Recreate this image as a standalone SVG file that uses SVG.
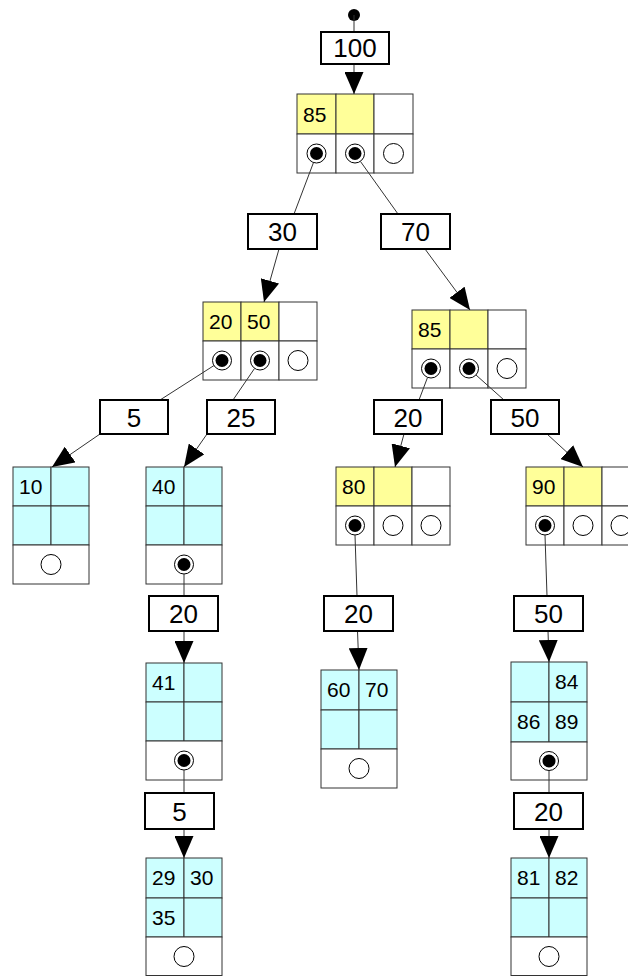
<svg xmlns="http://www.w3.org/2000/svg" width="628" height="976" viewBox="0 0 628 976">
<style>
.y{fill:#ffff99;stroke:#333333;stroke-width:1}
.c{fill:#ccffff;stroke:#333333;stroke-width:1}
.w{fill:#ffffff;stroke:#333333;stroke-width:1}
.lb{fill:#ffffff;stroke:#000000;stroke-width:2}
.lt{font-family:"Liberation Sans",Arial,sans-serif;font-size:26px;fill:#000;text-anchor:middle}
.ct{font-family:"Liberation Sans",Arial,sans-serif;font-size:21px;fill:#000}
.ring{fill:#ffffff;stroke:#000;stroke-width:1}
.dot{fill:#000}
.e{fill:none;stroke:#333333;stroke-width:1}
</style>
<defs>
<marker id="ah" viewBox="0 0 22 19" refX="22" refY="9.5" markerWidth="22" markerHeight="19" markerUnits="userSpaceOnUse" orient="auto">
<path d="M0,0 L22,9.5 L0,19 z" fill="#000"/>
</marker>
<g id="full"><circle class="ring" r="9.5"/><circle class="dot" r="6.5"/></g>
<g id="empty"><circle class="ring" r="10"/></g>
</defs>

<g id="n_root">
<rect class="y" x="297" y="94" width="39" height="40"/>
<rect class="y" x="336" y="94" width="38" height="40"/>
<rect class="w" x="374" y="94" width="39" height="40"/>
<rect class="w" x="297" y="134" width="39" height="39"/>
<rect class="w" x="336" y="134" width="38" height="39"/>
<rect class="w" x="374" y="134" width="39" height="39"/>
<text class="ct" x="303" y="121.5">85</text>
<use href="#full" x="316.5" y="153.5"/>
<use href="#full" x="355" y="153.5"/>
<use href="#empty" x="393.5" y="153.5"/>
</g>

<g id="n_2050">
<rect class="y" x="203" y="302" width="38" height="39"/>
<rect class="y" x="241" y="302" width="38" height="39"/>
<rect class="w" x="279" y="302" width="38" height="39"/>
<rect class="w" x="203" y="341" width="38" height="39"/>
<rect class="w" x="241" y="341" width="38" height="39"/>
<rect class="w" x="279" y="341" width="38" height="39"/>
<text class="ct" x="209" y="329">20</text>
<text class="ct" x="247" y="329">50</text>
<use href="#full" x="222" y="360.5"/>
<use href="#full" x="260" y="360.5"/>
<use href="#empty" x="298" y="360.5"/>
</g>

<g id="n_85">
<rect class="y" x="412" y="310" width="38" height="39"/>
<rect class="y" x="450" y="310" width="38" height="39"/>
<rect class="w" x="488" y="310" width="38" height="39"/>
<rect class="w" x="412" y="349" width="38" height="39"/>
<rect class="w" x="450" y="349" width="38" height="39"/>
<rect class="w" x="488" y="349" width="38" height="39"/>
<text class="ct" x="418" y="337">85</text>
<use href="#full" x="431" y="368.5"/>
<use href="#full" x="469" y="368.5"/>
<use href="#empty" x="507" y="368.5"/>
</g>

<g id="n_80">
<rect class="y" x="336" y="467" width="38" height="39"/>
<rect class="y" x="374" y="467" width="38" height="39"/>
<rect class="w" x="412" y="467" width="38" height="39"/>
<rect class="w" x="336" y="506" width="38" height="39"/>
<rect class="w" x="374" y="506" width="38" height="39"/>
<rect class="w" x="412" y="506" width="38" height="39"/>
<text class="ct" x="342" y="494">80</text>
<use href="#full" x="355" y="525.5"/>
<use href="#empty" x="393" y="525.5"/>
<use href="#empty" x="431" y="525.5"/>
</g>

<g id="n_90">
<rect class="y" x="526" y="467" width="38" height="39"/>
<rect class="y" x="564" y="467" width="38" height="39"/>
<rect class="w" x="602" y="467" width="38" height="39"/>
<rect class="w" x="526" y="506" width="38" height="39"/>
<rect class="w" x="564" y="506" width="38" height="39"/>
<rect class="w" x="602" y="506" width="38" height="39"/>
<text class="ct" x="532" y="494">90</text>
<use href="#full" x="545" y="525.5"/>
<use href="#empty" x="583" y="525.5"/>
<use href="#empty" x="621" y="525.5"/>
</g>

<g id="leaf_10">
<rect class="c" x="13" y="467" width="38" height="39"/>
<rect class="c" x="51" y="467" width="38" height="39"/>
<rect class="c" x="13" y="506" width="38" height="39"/>
<rect class="c" x="51" y="506" width="38" height="39"/>
<rect class="w" x="13" y="545" width="76" height="39"/>
<text class="ct" x="19" y="494">10</text>
<use href="#empty" x="51" y="564.5"/>
</g>

<g id="leaf_40">
<rect class="c" x="146" y="467" width="38" height="39"/>
<rect class="c" x="184" y="467" width="38" height="39"/>
<rect class="c" x="146" y="506" width="38" height="39"/>
<rect class="c" x="184" y="506" width="38" height="39"/>
<rect class="w" x="146" y="545" width="76" height="39"/>
<text class="ct" x="152" y="494">40</text>
<use href="#full" x="184" y="564.5"/>
</g>

<g id="leaf_41">
<rect class="c" x="146" y="663" width="38" height="39"/>
<rect class="c" x="184" y="663" width="38" height="39"/>
<rect class="c" x="146" y="702" width="38" height="39"/>
<rect class="c" x="184" y="702" width="38" height="39"/>
<rect class="w" x="146" y="741" width="76" height="39"/>
<text class="ct" x="152" y="690">41</text>
<use href="#full" x="184" y="760.5"/>
</g>

<g id="leaf_60">
<rect class="c" x="321" y="670" width="38" height="40"/>
<rect class="c" x="359" y="670" width="38" height="40"/>
<rect class="c" x="321" y="710" width="38" height="39"/>
<rect class="c" x="359" y="710" width="38" height="39"/>
<rect class="w" x="321" y="749" width="76" height="39"/>
<text class="ct" x="327" y="697">60</text>
<text class="ct" x="365" y="697">70</text>
<use href="#empty" x="359" y="768.5"/>
</g>

<g id="leaf_84">
<rect class="c" x="511" y="662" width="38" height="40"/>
<rect class="c" x="549" y="662" width="38" height="40"/>
<rect class="c" x="511" y="702" width="38" height="40"/>
<rect class="c" x="549" y="702" width="38" height="40"/>
<rect class="w" x="511" y="742" width="76" height="38"/>
<text class="ct" x="555" y="689">84</text>
<text class="ct" x="517" y="729">86</text>
<text class="ct" x="555" y="729">89</text>
<use href="#full" x="549" y="761"/>
</g>

<g id="leaf_29">
<rect class="c" x="146" y="858" width="38" height="40"/>
<rect class="c" x="184" y="858" width="38" height="40"/>
<rect class="c" x="146" y="898" width="38" height="39"/>
<rect class="c" x="184" y="898" width="38" height="39"/>
<rect class="w" x="146" y="937" width="76" height="38.5"/>
<text class="ct" x="152" y="885">29</text>
<text class="ct" x="190" y="885">30</text>
<text class="ct" x="152" y="925">35</text>
<use href="#empty" x="184" y="956.5"/>
</g>

<g id="leaf_81">
<rect class="c" x="511" y="858" width="38" height="40"/>
<rect class="c" x="549" y="858" width="38" height="40"/>
<rect class="c" x="511" y="898" width="38" height="39"/>
<rect class="c" x="549" y="898" width="38" height="39"/>
<rect class="w" x="511" y="937" width="76" height="38.5"/>
<text class="ct" x="517" y="885">81</text>
<text class="ct" x="555" y="885">82</text>
<use href="#empty" x="549" y="956.5"/>
</g>

<g id="connectors">
<circle cx="354" cy="15" r="6" fill="#000"/>
<line class="e" x1="354" y1="15" x2="354" y2="32"/>
<line class="e" x1="354" y1="64" x2="354" y2="94" marker-end="url(#ah)"/>

<line class="e" x1="313.5" y1="162.5" x2="294" y2="214"/>
<line class="e" x1="279" y1="249" x2="264" y2="302" marker-end="url(#ah)"/>

<line class="e" x1="360.5" y1="161.5" x2="398" y2="214"/>
<line class="e" x1="425" y1="249" x2="470" y2="310" marker-end="url(#ah)"/>

<line class="e" x1="214" y1="365.5" x2="160" y2="400"/>
<line class="e" x1="100" y1="434" x2="52" y2="467" marker-end="url(#ah)"/>

<line class="e" x1="254.5" y1="368.5" x2="233" y2="400"/>
<line class="e" x1="207" y1="434" x2="184" y2="467" marker-end="url(#ah)"/>

<line class="e" x1="427.5" y1="377.5" x2="419" y2="400"/>
<line class="e" x1="404" y1="434" x2="395" y2="467" marker-end="url(#ah)"/>

<line class="e" x1="476" y1="375" x2="504" y2="400"/>
<line class="e" x1="547" y1="434" x2="583" y2="467" marker-end="url(#ah)"/>

<line class="e" x1="184" y1="574" x2="184" y2="596"/>
<line class="e" x1="184" y1="631" x2="184" y2="663" marker-end="url(#ah)"/>

<line class="e" x1="355" y1="535" x2="357" y2="596"/>
<line class="e" x1="357.5" y1="631" x2="359" y2="670" marker-end="url(#ah)"/>

<line class="e" x1="545" y1="535" x2="547" y2="596"/>
<line class="e" x1="548" y1="631" x2="549" y2="662" marker-end="url(#ah)"/>

<line class="e" x1="184" y1="770" x2="184" y2="793"/>
<line class="e" x1="184" y1="829" x2="184" y2="858" marker-end="url(#ah)"/>

<line class="e" x1="549" y1="770.5" x2="549" y2="793"/>
<line class="e" x1="549" y1="829" x2="549" y2="858" marker-end="url(#ah)"/>
</g>

<g id="labels">
<g id="l100"><rect class="lb" x="321" y="32" width="68" height="32"/><text class="lt" x="355" y="57">100</text></g>
<g id="l30"><rect class="lb" x="248" y="214" width="69" height="35"/><text class="lt" x="282.5" y="241">30</text></g>
<g id="l70"><rect class="lb" x="381" y="214" width="69" height="35"/><text class="lt" x="415.5" y="241">70</text></g>
<g id="l5a"><rect class="lb" x="100" y="400" width="68" height="34"/><text class="lt" x="134" y="426.5">5</text></g>
<g id="l25"><rect class="lb" x="207" y="400" width="68" height="34"/><text class="lt" x="241" y="426.5">25</text></g>
<g id="l20a"><rect class="lb" x="374" y="400" width="68" height="34"/><text class="lt" x="408" y="426.5">20</text></g>
<g id="l50a"><rect class="lb" x="491" y="400" width="68" height="34"/><text class="lt" x="525" y="426.5">50</text></g>
<g id="l20b"><rect class="lb" x="149" y="596" width="69" height="35"/><text class="lt" x="183.5" y="623">20</text></g>
<g id="l20c"><rect class="lb" x="324" y="596" width="69" height="35"/><text class="lt" x="358.5" y="623">20</text></g>
<g id="l50b"><rect class="lb" x="514" y="596" width="69" height="35"/><text class="lt" x="548.5" y="623">50</text></g>
<g id="l5b"><rect class="lb" x="145" y="793" width="69" height="36"/><text class="lt" x="179.5" y="820.5">5</text></g>
<g id="l20d"><rect class="lb" x="514" y="793" width="69" height="36"/><text class="lt" x="548.5" y="820.5">20</text></g>
</g>
</svg>
